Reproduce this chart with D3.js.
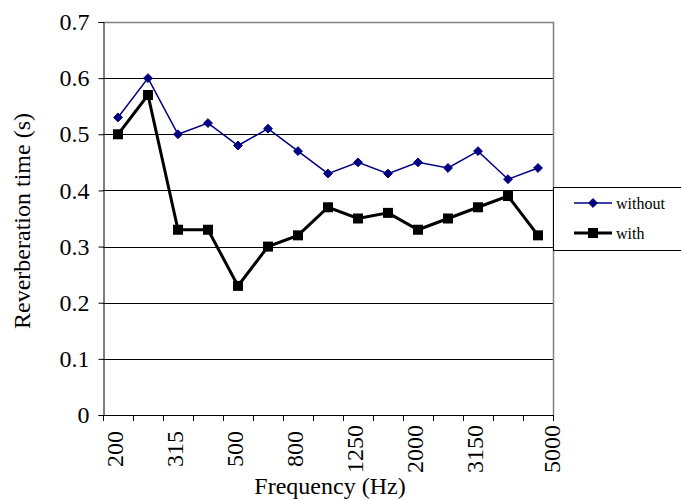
<!DOCTYPE html>
<html>
<head>
<meta charset="utf-8">
<script src="https://cdn.jsdelivr.net/npm/d3@7"></script>
<style>
  html, body { margin: 0; padding: 0; background: #fff; }
</style>
</head>
<body>
<svg id="chart" width="681" height="500"></svg>
<script>
const categories = ["200","250","315","400","500","630","800","1000","1250","1600","2000","2500","3150","4000","5000"];
const withoutValues = [0.53,0.60,0.50,0.52,0.48,0.51,0.47,0.43,0.45,0.43,0.45,0.44,0.47,0.42,0.44];
const withValues = [0.50,0.57,0.33,0.33,0.23,0.30,0.32,0.37,0.35,0.36,0.33,0.35,0.37,0.39,0.32];
const yTicks = [0,0.1,0.2,0.3,0.4,0.5,0.6,0.7];
const xLabelCats = ["200","315","500","800","1250","2000","3150","5000"];
const seriesNames = ["without","with"];

const FONT = "Liberation Serif";
const svg = d3.select("#chart");
const pLeft = 103, pRight = 553, pTop = 22, pBottom = 415;

const x = d3.scaleBand().domain(categories).range([pLeft, pRight]).padding(0);
const y = d3.scaleLinear().domain([0, 0.7]).range([pBottom, pTop]);

// gridlines
svg.append("g").selectAll("line").data(yTicks.filter(d => d > 0 && d < 0.7)).join("line")
  .attr("x1", pLeft).attr("x2", pRight)
  .attr("y1", d => Math.round(y(d)) + 0.5).attr("y2", d => Math.round(y(d)) + 0.5)
  .attr("stroke", "#000").attr("stroke-width", 1);

// plot border (top and right, gray)
svg.append("path")
  .attr("d", `M${pLeft},${Math.round(y(0.7))+0.5}H${pRight+0.5}V${pBottom}`)
  .attr("fill", "none").attr("stroke", "#808080").attr("stroke-width", 1.5);

// y axis
const yAxis = d3.axisLeft(y).tickValues(yTicks).tickSize(5).tickPadding(9)
  .tickFormat(d => d === 0 ? "0" : d3.format(".1f")(d));
const gy = svg.append("g").attr("transform", `translate(${pLeft+0.5},0)`).call(yAxis)
  .attr("font-family", FONT).attr("font-size", 24);
gy.select(".domain").attr("stroke", "#000");
gy.selectAll(".tick line").attr("stroke", "#000");
gy.selectAll(".tick text").attr("fill", "#000").style("font-family", FONT).style("font-size", "24px");

// x axis line and ticks at category boundaries
const gx = svg.append("g");
gx.append("line").attr("x1", pLeft).attr("x2", pRight + 1)
  .attr("y1", pBottom + 0.5).attr("y2", pBottom + 0.5).attr("stroke", "#000");
const boundaries = categories.map(c => x(c)).concat([x(categories[categories.length-1]) + x.bandwidth()]);
gx.selectAll("line.tk").data(boundaries).join("line").attr("class","tk")
  .attr("x1", d => Math.round(d) + 0.5).attr("x2", d => Math.round(d) + 0.5)
  .attr("y1", pBottom).attr("y2", pBottom + 6).attr("stroke", "#000");
gx.selectAll("text").data(xLabelCats).join("text")
  .attr("transform", (d, i) => {
    const cx = (d === categories[categories.length-1]) ? pRight + 7 : x(d) + x.bandwidth()/2 + 5;
    return `translate(${cx},449) rotate(-90)`;
  })
  .attr("text-anchor", "middle")
  .style("font-family", FONT).style("font-size", "24px")
  .attr("fill", "#000")
  .text(d => d);

// lines
const line = (vals) => d3.line()
  .x((d, i) => x(categories[i]) + x.bandwidth()/2)
  .y(d => y(d))(vals);

svg.append("path").attr("d", line(withoutValues))
  .attr("fill", "none").attr("stroke", "#000080").attr("stroke-width", 1.5);
svg.append("path").attr("d", line(withValues))
  .attr("fill", "none").attr("stroke", "#000").attr("stroke-width", 3);

const diamond = d3.symbol().type(d3.symbolDiamond2).size(50);
svg.append("g").selectAll("path").data(withoutValues).join("path")
  .attr("d", diamond)
  .attr("transform", (d, i) => `translate(${x(categories[i]) + x.bandwidth()/2},${y(d)})`)
  .attr("fill", "#000080").attr("stroke", "#000080").attr("stroke-width", 1);

svg.append("g").selectAll("rect").data(withValues).join("rect")
  .attr("x", (d, i) => x(categories[i]) + x.bandwidth()/2 - 5)
  .attr("y", d => y(d) - 5)
  .attr("width", 10).attr("height", 10)
  .attr("fill", "#000");

// axis titles
svg.append("text")
  .attr("transform", `translate(30,221) rotate(-90)`)
  .attr("text-anchor", "middle").style("font-family", FONT).style("font-size", "24px").attr("fill", "#000")
  .text("Reverberation time (s)");
svg.append("text")
  .attr("x", 330).attr("y", 494)
  .attr("text-anchor", "middle").style("font-family", FONT).style("font-size", "24px").attr("fill", "#000")
  .text("Frequency (Hz)");

// legend
const lg = svg.append("g");
lg.append("rect").attr("x", 553.5).attr("y", 187.5).attr("width", 140).attr("height", 63)
  .attr("fill", "#fff").attr("stroke", "#000").attr("stroke-width", 1);
const ly = [203, 233];
lg.append("line").attr("x1", 574).attr("x2", 612).attr("y1", ly[0]).attr("y2", ly[0])
  .attr("stroke", "#000080").attr("stroke-width", 1.5);
lg.append("path").attr("d", diamond).attr("transform", `translate(593,${ly[0]})`)
  .attr("fill", "#000080").attr("stroke", "#000080");
lg.append("line").attr("x1", 574).attr("x2", 612).attr("y1", ly[1]).attr("y2", ly[1])
  .attr("stroke", "#000").attr("stroke-width", 3);
lg.append("rect").attr("x", 588).attr("y", ly[1]-5).attr("width", 10).attr("height", 10).attr("fill", "#000");
lg.selectAll("text.lt").data(seriesNames).join("text").attr("class","lt")
  .attr("x", 616).attr("y", (d, i) => ly[i] + 6)
  .style("font-family", FONT).style("font-size", "16px").attr("fill", "#000").text(d => d);
</script>
</body>
</html>
